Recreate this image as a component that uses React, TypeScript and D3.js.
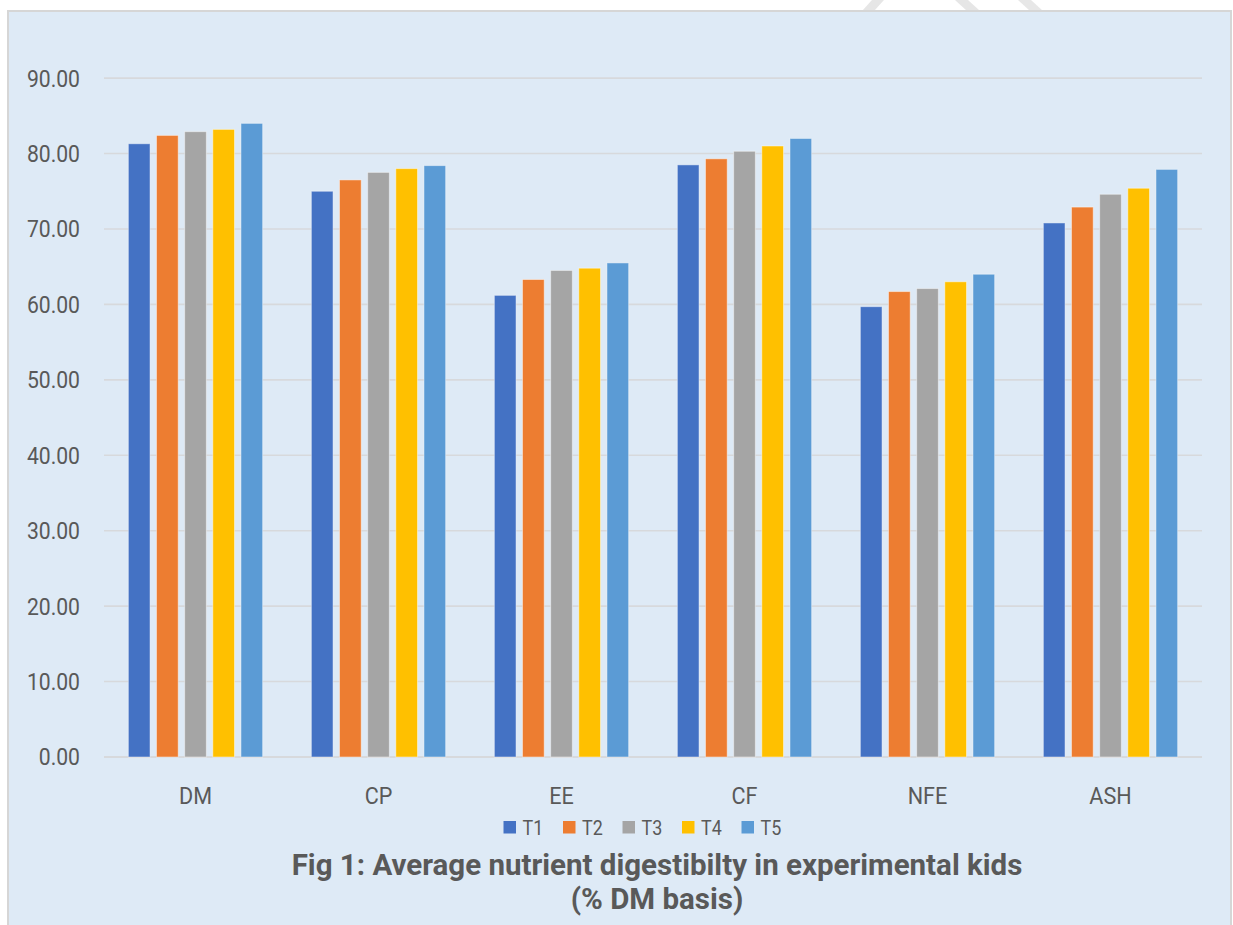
import React from "react";
import * as d3 from "d3";

const categories = ["DM", "CP", "EE", "CF", "NFE", "ASH"];
const seriesNames = ["T1", "T2", "T3", "T4", "T5"];
const T1 = [81.3, 75.0, 61.2, 78.5, 59.7, 70.8];
const T2 = [82.4, 76.5, 63.3, 79.3, 61.7, 72.9];
const T3 = [82.9, 77.5, 64.5, 80.3, 62.1, 74.6];
const T4 = [83.2, 78.0, 64.8, 81.0, 63.0, 75.4];
const T5 = [84.0, 78.4, 65.5, 82.0, 64.0, 77.9];
const yTicks = [0, 10, 20, 30, 40, 50, 60, 70, 80, 90];
const colors = ["#4472c4", "#ed7d31", "#a5a5a5", "#ffc000", "#5b9bd5"];
const titleLines = ["Fig 1: Average nutrient digestibilty in experimental kids", "(% DM basis)"];

const seriesValues = [T1, T2, T3, T4, T5];

export default function App() {
  const W = 1233;
  const H = 925;
  const plotLeft = 104;
  const plotRight = 1202;
  const y = d3.scaleLinear().domain([0, 90]).range([757, 78.1]);
  const x0 = d3
    .scaleBand<string>()
    .domain(categories)
    .range([plotLeft, plotRight])
    .paddingInner(0.266)
    .paddingOuter(0.133);
  const x1 = d3
    .scaleBand<string>()
    .domain(seriesNames)
    .range([0, x0.bandwidth()])
    .paddingInner(0.229)
    .paddingOuter(0);
  const fmt = d3.format(".2f");
  const font = "Roboto, 'Liberation Sans', sans-serif";
  const textColor = "#595959";

  const legendStart = 503.5;
  const legendStep = 59.5;

  return (
    <svg
      width={W}
      height={H}
      style={{ position: "absolute", left: 0, top: 0 }}
      fontFamily={font}
    >
      <rect x={0} y={0} width={W} height={H} fill="#ffffff" />
      {/* faint watermark fragments above the chart box */}
      <g fill="#e4e4e4" opacity={0.9}>
        <polygon points="862,11 872,0 884,0 874,11" />
        <polygon points="955,0 968,0 980,11 967,11" />
        <polygon points="1018,0 1031,0 1043,11 1030,11" />
      </g>
      <rect
        x={8}
        y={11}
        width={1223}
        height={H}
        fill="#deeaf6"
        stroke="#d6d6d6"
        strokeWidth={2}
      />
      {yTicks.map((t) => (
        <g key={t}>
          <line
            x1={plotLeft}
            x2={plotRight}
            y1={y(t)}
            y2={y(t)}
            stroke="#d7d9dc"
            strokeWidth={t === 0 ? 2 : 1.6}
          />
          <g transform={`translate(80,${y(t)}) scale(0.9,1)`}>
            <text
              x={0}
              y={0}
              dy="0.36em"
              textAnchor="end"
              fontSize={23.5}
              fill={textColor}
            >
              {fmt(t)}
            </text>
          </g>
        </g>
      ))}
      {categories.map((c, ci) => (
        <g key={c} transform={`translate(${x0(c)},0)`}>
          {seriesNames.map((s, si) => {
            const v = seriesValues[si][ci];
            return (
              <rect
                key={s}
                x={x1(s)}
                y={y(v)}
                width={x1.bandwidth()}
                height={y(0) - y(v)}
                fill={colors[si]}
                stroke="#ffffff"
                strokeOpacity={0.45}
                strokeWidth={1}
              />
            );
          })}
          <g transform={`translate(${x0.bandwidth() / 2},804) scale(0.92,1)`}>
            <text x={0} y={0} textAnchor="middle" fontSize={23.5} fill={textColor}>
              {c}
            </text>
          </g>
        </g>
      ))}
      {seriesNames.map((s, si) => (
        <g key={s} transform={`translate(${legendStart + si * legendStep},821)`}>
          <rect x={0} y={0} width={12.5} height={12.5} fill={colors[si]} />
          <g transform="translate(19,13.5) scale(0.92,1)">
            <text x={0} y={0} fontSize={19.5} fill={textColor}>
              {s}
            </text>
          </g>
        </g>
      ))}
      {titleLines.map((t, i) => (
        <text
          key={i}
          x={657}
          y={875 + i * 34}
          textAnchor="middle"
          fontSize={29.5}
          fontWeight="bold"
          fill={textColor}
        >
          {t}
        </text>
      ))}
    </svg>
  );
}
